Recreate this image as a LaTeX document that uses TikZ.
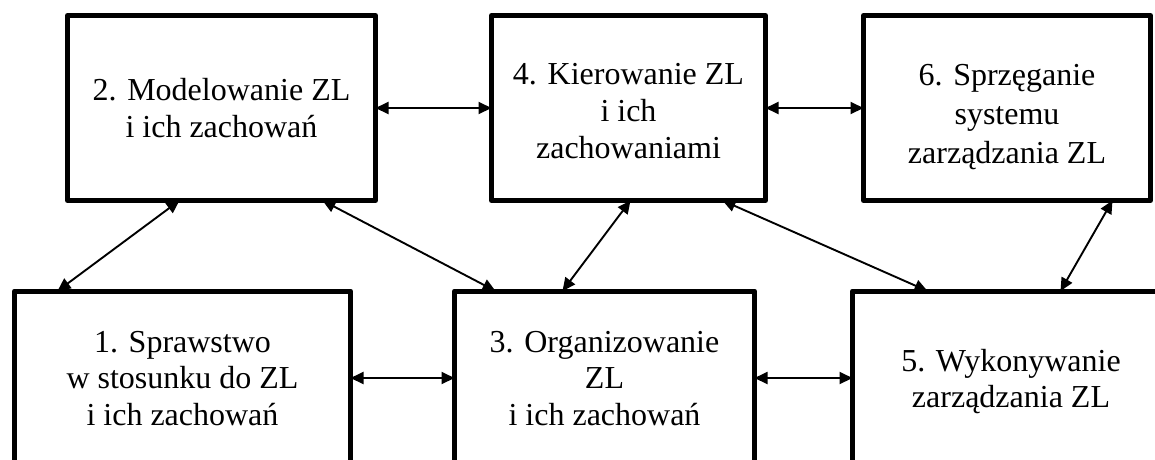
\documentclass[tikz,border=0pt]{standalone}
\usepackage{fontspec}
\setmainfont{Liberation Serif}
\usetikzlibrary{arrows.meta}
\begin{document}
\begin{tikzpicture}[x=1pt,y=-1pt,
  stagetext/.style={align=center, inner sep=0pt,
    font=\fontsize{32}{36.8}\selectfont},
  stage/.style={draw=black, line width=5pt, line join=round, rectangle,
    outer sep=0pt, stagetext},
  link/.style={{Triangle[length=13pt,width=12pt]}-{Triangle[length=13pt,width=12pt]},
    line width=1.9pt}]
\path[use as bounding box, clip] (0,0) rectangle (1155,459);
\fill[white] (0,0) rectangle (1155,459);

% upper row
\node[stage, minimum width=308pt, minimum height=185pt] (b2) at (221.5,108)
  {2. Modelowanie ZL\\i ich zachowań};
\node[stage, minimum width=274pt, minimum height=185pt] (b4) at (628.5,108) {};
\node[stagetext] (b4text) at ([yshift=-3pt]b4.center)
  {4. Kierowanie ZL\\i ich\\zachowaniami};
\node[stage, minimum width=287pt, minimum height=185pt] (b6) at (1007,108) {};
\node[stagetext, font=\fontsize{32}{39}\selectfont] (b6text) at ([yshift=-9pt]b6.center)
  {6. Sprzęganie\\systemu\\zarządzania ZL};

% lower row (runs past the lower edge)
\node[stage, minimum width=336pt, minimum height=175pt] (b1) at (182.5,378.5)
  {1. Sprawstwo\\w stosunku do ZL\\i ich zachowań};
\node[stage, minimum width=300pt, minimum height=175pt] (b3) at (604.5,378.5)
  {3. Organizowanie\\ZL\\i ich zachowań};
\node[stage, minimum width=317pt, minimum height=175pt] (b5) at (1011,378.5) {};
\node[stagetext] (b5text) at ([yshift=-3pt]b5.center)
  {5. Wykonywanie\\zarządzania ZL};

% horizontal links
\draw[link] (b2.east |- 0,108) -- (b4.west |- 0,108);
\draw[link] (b4.east |- 0,108) -- (b6.west |- 0,108);
\draw[link] (b1.east |- 0,378) -- (b3.west |- 0,378);
\draw[link] (b3.east |- 0,378) -- (b5.west |- 0,378);

% diagonal links between the rows
\draw[link] ([xshift=112pt]b2.south west) -- ([xshift=43pt]b1.north west);
\draw[link] ([xshift=-53pt]b2.south east) -- ([xshift=41pt]b3.north west);
\draw[link] ([xshift=139pt]b4.south west) -- ([xshift=108pt]b3.north west);
\draw[link] ([xshift=-43pt]b4.south east) -- ([xshift=75pt]b5.north west);
\draw[link] ([xshift=-38pt]b6.south east) -- ([xshift=208pt]b5.north west);
\end{tikzpicture}
\end{document}
